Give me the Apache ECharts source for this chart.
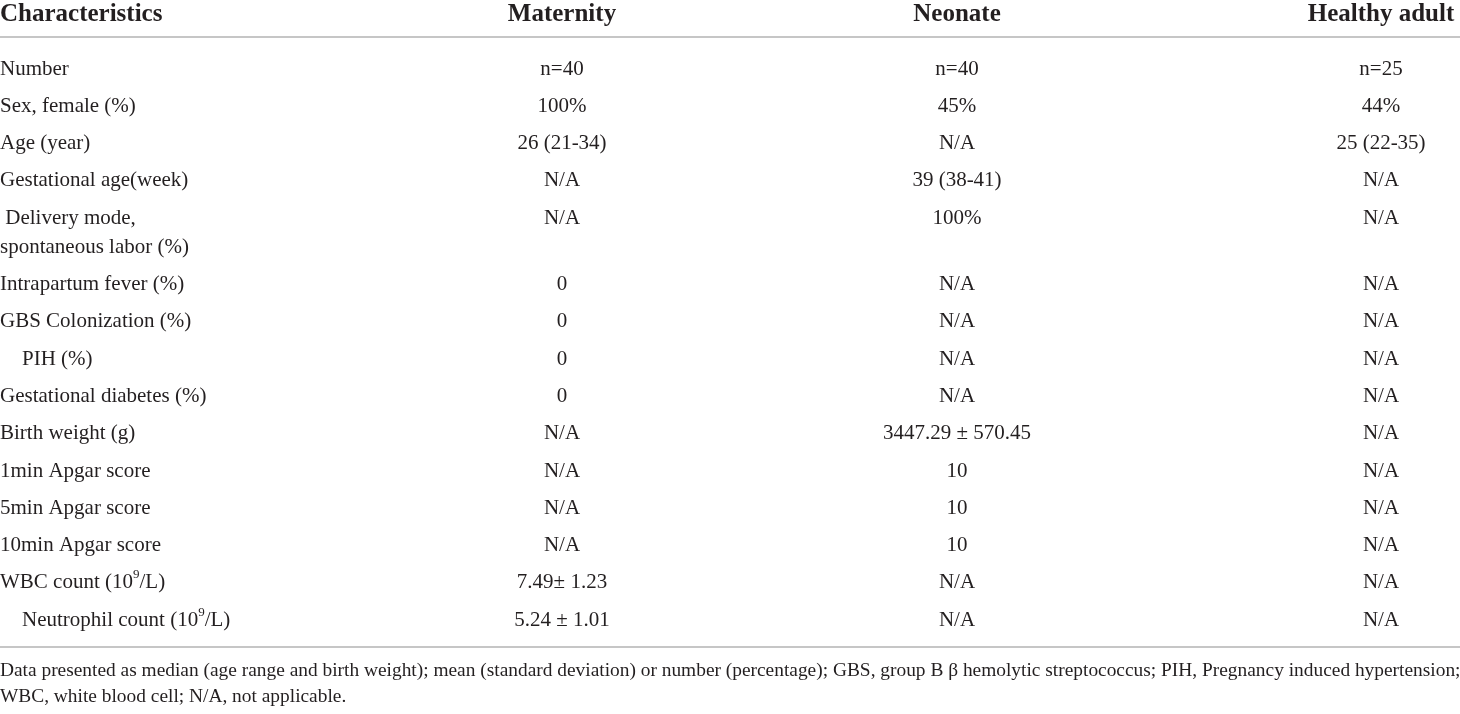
<!DOCTYPE html>
<html><head><meta charset="utf-8">
<script src="https://cdn.jsdelivr.net/npm/echarts@6/dist/echarts.min.js"></script>
<style>html,body{margin:0;padding:0;background:#fff}#c{width:1460px;height:714px}</style>
</head><body><div id="c"></div>
<script>
// ---- data ----
const columns = ['Characteristics', 'Maternity', 'Neonate', 'Healthy adult'];
const characteristics = [
  'Number', 'Sex, female (%)', 'Age (year)', 'Gestational age(week)',
  ' Delivery mode,\nspontaneous labor (%)', 'Intrapartum fever (%)', 'GBS Colonization (%)',
  'PIH (%)', 'Gestational diabetes (%)', 'Birth weight (g)', '1min Apgar score',
  '5min Apgar score', '10min Apgar score', 'WBC count (10{sup|9}/L)', 'Neutrophil count (10{sup|9}/L)'
];
const maternity = ['n=40', '100%', '26 (21-34)', 'N/A', 'N/A', '0', '0', '0', '0', 'N/A', 'N/A', 'N/A', 'N/A', '7.49\u00b1 1.23', '5.24 \u00b1 1.01'];
const neonate = ['n=40', '45%', 'N/A', '39 (38-41)', '100%', 'N/A', 'N/A', 'N/A', 'N/A', '3447.29 \u00b1 570.45', '10', '10', '10', 'N/A', 'N/A'];
const healthyAdult = ['n=25', '44%', '25 (22-35)', 'N/A', 'N/A', 'N/A', 'N/A', 'N/A', 'N/A', 'N/A', 'N/A', 'N/A', 'N/A', 'N/A', 'N/A'];
const footnote = [
  'Data presented as median (age range and birth weight); mean (standard deviation) or number (percentage); GBS, group B \u03b2 hemolytic streptococcus; PIH, Pregnancy induced hypertension;',
  'WBC, white blood cell; N/A, not applicable.'
];

// ---- layout (positions / styles) ----
const colX = [0, 562, 957, 1381];
const indent = [0, 0, 0, 0, 0, 0, 0, 22, 0, 0, 0, 0, 0, 0, 22];
const headerY = 15, firstRowY = 68, rowPitch = 37.3, lineH = 29;
const ruleY = [37, 647];
const footY = [671, 697];
const FONT = "'Liberation Serif', 'Times New Roman', serif";
const INK = '#231f20';

const table = [characteristics, maternity, neonate, healthyAdult];
const rowY = [];
let acc = firstRowY;
characteristics.forEach((t, i) => {
  rowY.push(acc);
  acc += rowPitch + (t.split('\n').length - 1) * lineH;
});

const cellData = [];
characteristics.forEach((_, i) => columns.forEach((_, j) => cellData.push([j, i])));
const headerData = columns.map((_, j) => [j, 0]);

const chart = echarts.init(document.getElementById('c'), null, { renderer: 'canvas' });
chart.setOption({
  animation: false,
  backgroundColor: '#fff',
  grid: { left: 0, right: 0, top: 0, bottom: 0 },
  xAxis: { type: 'value', min: 0, max: 1460, show: false },
  yAxis: { type: 'value', min: 0, max: 714, inverse: true, show: false },
  series: [
    {
      type: 'custom', name: 'header', data: headerData, silent: true,
      renderItem: (params, api) => {
        const j = api.value(0);
        const p = api.coord([colX[j], headerY]);
        return {
          type: 'text', x: p[0], y: p[1],
          style: {
            text: columns[j], fill: INK,
            font: "bold 25px " + FONT,
            align: j === 0 ? 'left' : 'center', verticalAlign: 'middle'
          }
        };
      }
    },
    {
      type: 'custom', name: 'rules', data: ruleY.map(v => [0, v]), silent: true,
      renderItem: (params, api) => {
        const a = api.coord([0, api.value(1)]);
        const b = api.coord([1460, api.value(1)]);
        return {
          type: 'line',
          shape: { x1: a[0], y1: a[1], x2: b[0], y2: b[1] },
          style: { stroke: '#c6c6c6', lineWidth: 2 }
        };
      }
    },
    {
      type: 'custom', name: 'cells', data: cellData, silent: true,
      renderItem: (params, api) => {
        const j = api.value(0), i = api.value(1);
        const p = api.coord([colX[j] + (j === 0 ? indent[i] : 0), rowY[i] - lineH / 2 + 1]);
        return {
          type: 'text', x: p[0], y: p[1],
          style: {
            text: table[j][i], fill: INK,
            font: "21px " + FONT, lineHeight: lineH,
            align: j === 0 ? 'left' : 'center', verticalAlign: 'top',
            rich: { sup: { fontSize: 13, fontFamily: FONT, fill: INK, verticalAlign: 'top', lineHeight: 18 } }
          }
        };
      }
    },
    {
      type: 'custom', name: 'footnote', data: footnote.map((_, k) => [0, k]), silent: true,
      renderItem: (params, api) => {
        const k = api.value(1);
        const p = api.coord([0, footY[k]]);
        return {
          type: 'text', x: p[0], y: p[1],
          style: {
            text: footnote[k], fill: INK,
            font: "19.4px " + FONT, align: 'left', verticalAlign: 'middle'
          }
        };
      }
    }
  ]
});
</script>
</body></html>
